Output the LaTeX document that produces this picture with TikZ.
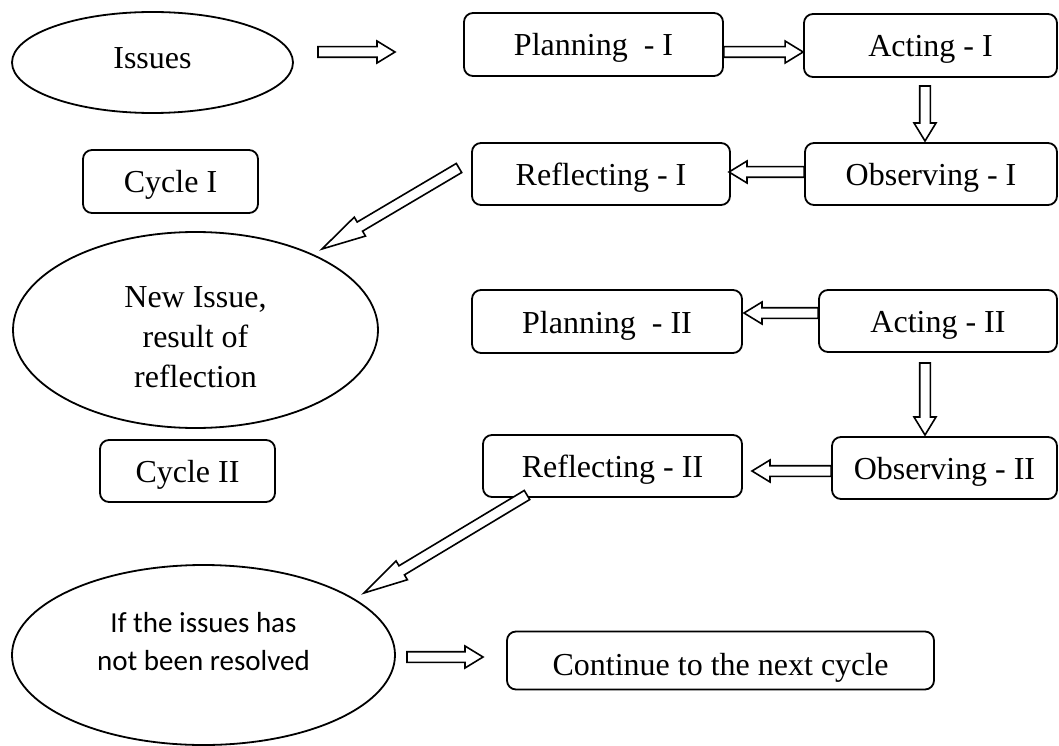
\documentclass[tikz,border=0pt]{standalone}
\usepackage{fontspec}
\setmainfont{Liberation Serif}
\newfontfamily\calfont{Carlito}
\usetikzlibrary{shapes.geometric,calc}
\tikzset{
  box/.style={draw, line width=1.8pt, rounded corners=9pt, inner sep=0pt,
    text height=23pt, text depth=0pt, font=\fontsize{32}{38}\selectfont},
  oval/.style={draw, ellipse, line width=1.8pt, inner sep=0pt, align=center, font=\fontsize{32}{40}\selectfont},
  barr/.style={draw, line width=1.6pt, fill=white, line join=miter},
}
% block arrow between two named coordinates; optional arg = head length
\newcommand\blockarrow[3][18]{%
  \path let \p1=(#2), \p2=(#3), \n1={atan2(\y2-\y1,\x2-\x1)}, \n2={veclen(\x2-\x1,\y2-\y1)} in
    [barr, shift={(\p1)}, rotate=\n1]
    (0,-5.3) -- (\n2-#1,-5.3) -- (\n2-#1,-11) -- (\n2,0) -- (\n2-#1,11) -- (\n2-#1,5.3) -- (0,5.3) -- cycle;%
}
\begin{document}
\begin{tikzpicture}[x=1pt,y=-1pt]
\useasboundingbox (0,0) rectangle (1059,746);
% nodes
\node[oval, minimum width=281pt, minimum height=101pt, text depth=9pt] (issues) at (152.5,62.5) {Issues};
\node[box, minimum width=259pt, minimum height=63pt] (p1) at (593.5,44.5) {Planning\ \ - I};
\node[box, minimum width=253pt, minimum height=63pt] (a1) at (930.5,45.5) {Acting - I};
\node[box, minimum width=252pt, minimum height=62pt] (o1) at (931,174) {Observing - I};
\node[box, minimum width=258pt, minimum height=62pt] (r1) at (601,174) {Reflecting - I};
\node[box, minimum width=175pt, minimum height=63pt] (c1) at (170.5,181.5) {Cycle I};
\node[oval, minimum width=365pt, minimum height=196pt] (newissue) at (195.5,330) {\rule{0pt}{36pt}New Issue,\\result of\\reflection};
\node[box, minimum width=270pt, minimum height=63pt] (p2) at (607,321.5) {Planning\ \ - II};
\node[box, minimum width=238pt, minimum height=62pt] (a2) at (938,321) {Acting - II};
\node[box, minimum width=225pt, minimum height=62pt] (o2) at (944.5,468) {Observing - II};
\node[box, minimum width=259pt, minimum height=62pt] (r2) at (612.5,466) {Reflecting - II};
\node[box, minimum width=175pt, minimum height=62pt] (c2) at (187.5,471) {Cycle II};
\node[oval, minimum width=383pt, minimum height=180pt, font=\calfont\fontsize{29}{38}\selectfont] (ifnode) at (203.5,655) {If the issues has\\not been resolved\rule[-28pt]{0pt}{0pt}};
\node[box, minimum width=427pt, minimum height=58pt, text height=29pt] (cont) at (720.5,660.5) {Continue to the next cycle};
% arrow end points
\coordinate (e1s) at (318,52);  \coordinate (e1e) at (395,52);
\coordinate (e2s) at (p1.east |- 0,52); \coordinate (e2e) at (a1.west |- 0,52);
\coordinate (e3s) at (925,86);  \coordinate (e3e) at (925,141);
\coordinate (e4s) at (o1.west |- 0,172); \coordinate (e4e) at (729,172);
\coordinate (e5s) at (459,168); \coordinate (e5e) at (322,249);
\coordinate (e6s) at (a2.west |- 0,313); \coordinate (e6e) at (744,313);
\coordinate (e7s) at (925,363); \coordinate (e7e) at (925,435);
\coordinate (e8s) at (o2.west |- 0,471); \coordinate (e8e) at (752,471);
\coordinate (e9s) at (527,495); \coordinate (e9e) at (364,593);
\coordinate (e10s) at (407,657); \coordinate (e10e) at (483,657);
% arrows
\blockarrow{e1s}{e1e}
\blockarrow{e2s}{e2e}
\blockarrow{e3s}{e3e}
\blockarrow{e4s}{e4e}
\blockarrow[44]{e5s}{e5e}
\blockarrow{e6s}{e6e}
\blockarrow{e7s}{e7e}
\blockarrow{e8s}{e8e}
\blockarrow[44]{e9s}{e9e}
\blockarrow{e10s}{e10e}
\end{tikzpicture}
\end{document}
